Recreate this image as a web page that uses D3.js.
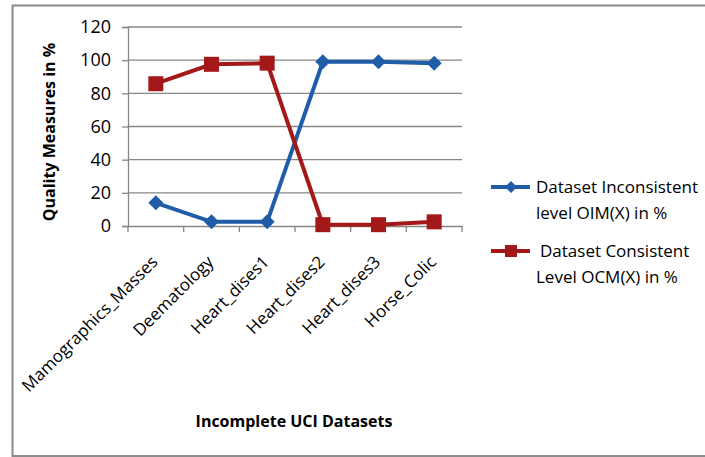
<!DOCTYPE html>
<html><head><meta charset="utf-8">
<script src="https://cdn.jsdelivr.net/npm/d3@7"></script>
<style>body{margin:0;background:#fff}svg{display:block}text{font-family:"Open Sans",sans-serif}</style>
</head><body><svg id="c" width="705" height="457"></svg>
<script>
const categories = ["Mamographics_Masses","Deematology","Heart_dises1","Heart_dises2","Heart_dises3","Horse_Colic"];
const oimValues = [14, 2.5, 2.5, 99, 99, 98.2];
const ocmValues = [85.8, 97.5, 98.2, 0.8, 0.8, 2.5];
const yTicks = [0, 20, 40, 60, 80, 100, 120];
const seriesNames = [["Dataset Inconsistent","level OIM(X) in %"],["Dataset Consistent","Level OCM(X) in %"]];

const svg = d3.select("#c");
svg.append("rect").attr("x",12.5).attr("y",5.5).attr("width",705).attr("height",450.5)
  .attr("fill","none").attr("stroke","#8a8a8a").attr("stroke-width",2);

const L=128, R=462, T=27, B=226;
const x = d3.scaleBand().domain(categories).range([L,R]);
const y = d3.scaleLinear().domain([0,120]).range([B,T]);

// gridlines
svg.append("g").selectAll("line").data(yTicks.filter(d=>d>0)).join("line")
  .attr("x1",L).attr("x2",R).attr("y1",d=>y(d)).attr("y2",d=>y(d))
  .attr("stroke","#868686").attr("stroke-width",1.3);

// y axis
const ya = svg.append("g").attr("transform",`translate(${L},0)`)
  .call(d3.axisLeft(y).tickValues(yTicks).tickSize(6).tickPadding(11));
ya.select(".domain").attr("stroke","#868686").attr("stroke-width",1.3);
ya.selectAll(".tick line").attr("stroke","#868686").attr("stroke-width",1.3);
ya.selectAll("text").attr("font-size",18).attr("fill","#000").attr("font-family","Open Sans");

// x axis
const xa = svg.append("g").attr("transform",`translate(0,${B})`)
  .call(d3.axisBottom(x).tickSize(0).tickFormat(""));
xa.select(".domain").attr("stroke","#868686").attr("stroke-width",1.3);
const boundaries = d3.range(categories.length+1).map(i=>L+i*x.bandwidth());
svg.append("g").selectAll("line").data(boundaries).join("line")
  .attr("x1",d=>d).attr("x2",d=>d).attr("y1",B).attr("y2",B+6)
  .attr("stroke","#868686").attr("stroke-width",1.3);
svg.append("g").selectAll("text").data(categories).join("text")
  .attr("transform",d=>`translate(${x(d)+x.bandwidth()/2+3},${B+37}) rotate(-45)`)
  .attr("text-anchor","end").attr("font-size",17).attr("fill","#000").text(d=>d);

// titles
svg.append("text").attr("x",294).attr("y",427).attr("text-anchor","middle")
  .attr("font-size",16).attr("font-weight","bold").text("Incomplete UCI Datasets");
svg.append("text").attr("transform","translate(55,132) rotate(-90)").attr("text-anchor","middle")
  .attr("font-size",16).attr("font-weight","bold").text("Quality Measures  in %");

const blue="#1f5da8", red="#a31818";
const line = d3.line().x((d,i)=>x(categories[i])+x.bandwidth()/2).y(d=>y(d));
svg.append("path").datum(oimValues).attr("d",line).attr("fill","none").attr("stroke",blue).attr("stroke-width",4);
svg.append("path").datum(ocmValues).attr("d",line).attr("fill","none").attr("stroke",red).attr("stroke-width",4);

const diamond = (cx,cy,s)=>`M${cx},${cy-s}L${cx+s},${cy}L${cx},${cy+s}L${cx-s},${cy}Z`;
svg.append("g").selectAll("path").data(oimValues).join("path")
  .attr("d",(d,i)=>diamond(x(categories[i])+x.bandwidth()/2,y(d),7.5)).attr("fill",blue);
svg.append("g").selectAll("rect").data(ocmValues).join("rect")
  .attr("x",(d,i)=>x(categories[i])+x.bandwidth()/2-7.5).attr("y",d=>y(d)-7.5)
  .attr("width",15).attr("height",15).attr("fill",red);

// legend
const lg = svg.append("g");
const ly=[187,251];
lg.append("line").attr("x1",491).attr("x2",530).attr("y1",ly[0]).attr("y2",ly[0]).attr("stroke",blue).attr("stroke-width",4);
lg.append("path").attr("d",diamond(511,ly[0],6)).attr("fill",blue);
lg.append("line").attr("x1",491).attr("x2",530).attr("y1",ly[1]).attr("y2",ly[1]).attr("stroke",red).attr("stroke-width",4);
lg.append("rect").attr("x",505).attr("y",ly[1]-6).attr("width",12).attr("height",12).attr("fill",red);
seriesNames.forEach((s,i)=>{
  lg.append("text").attr("x",i===0?536:540).attr("y",ly[i]+6).attr("font-size",17).text(s[0]);
  lg.append("text").attr("x",536).attr("y",ly[i]+32).attr("font-size",17).text(s[1]);
});
</script></body></html>
